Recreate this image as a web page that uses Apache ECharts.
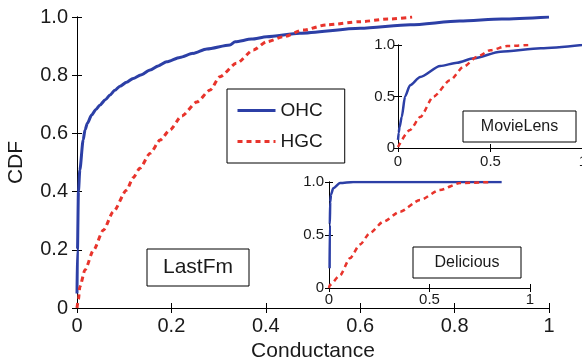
<!DOCTYPE html>
<html>
<head>
<meta charset="utf-8">
<script src="https://cdn.jsdelivr.net/npm/echarts@6/dist/echarts.min.js"></script>
<style>
html,body{margin:0;padding:0;background:#fff;}
#chart{width:582px;height:359px;}
</style>
</head>
<body>
<div id="chart"></div>
<script>
// ---- Data ----
// LastFm (main plot)
const lastfmOhcX = [0, 0.001, 0.003, 0.006, 0.013, 0.017, 0.022, 0.031, 0.040, 0.049, 0.060, 0.070, 0.080, 0.091, 0.105, 0.119, 0.135, 0.155, 0.172, 0.190, 0.218, 0.246, 0.275, 0.324, 0.335, 0.370, 0.402, 0.472, 0.600, 0.706, 0.811, 0.900, 1.0];
const lastfmOhcY = [0.05, 0.20, 0.40, 0.474, 0.577, 0.612, 0.635, 0.663, 0.682, 0.698, 0.716, 0.732, 0.748, 0.762, 0.776, 0.789, 0.801, 0.818, 0.832, 0.846, 0.861, 0.875, 0.890, 0.904, 0.915, 0.924, 0.932, 0.944, 0.961, 0.973, 0.986, 0.993, 1.0];
const lastfmHgcX = [0, 0.003, 0.006, 0.017, 0.035, 0.056, 0.077, 0.105, 0.119, 0.133, 0.155, 0.176, 0.197, 0.222, 0.254, 0.282, 0.303, 0.338, 0.374, 0.402, 0.437, 0.479, 0.529, 0.600, 0.660, 0.710];
const lastfmHgcY = [0, 0.03, 0.073, 0.131, 0.199, 0.268, 0.331, 0.405, 0.448, 0.480, 0.532, 0.577, 0.612, 0.660, 0.708, 0.749, 0.795, 0.841, 0.887, 0.915, 0.932, 0.955, 0.973, 0.984, 0.993, 1.0];
// MovieLens (inset)
const movieOhcX = [0, 0.004, 0.008, 0.020, 0.038, 0.065, 0.120, 0.228, 0.319, 0.409, 0.554, 0.772, 1.0];
const movieOhcY = [0.078, 0.15, 0.20, 0.30, 0.50, 0.61, 0.69, 0.796, 0.828, 0.871, 0.935, 0.968, 1.0];
const movieHgcX = [0, 0.065, 0.120, 0.192, 0.283, 0.355, 0.428, 0.500, 0.591, 0.708];
const movieHgcY = [0.01, 0.175, 0.30, 0.50, 0.66, 0.79, 0.886, 0.95, 0.99, 1.0];
// Delicious (inset)
const delOhcX = [0.003, 0.004, 0.006, 0.010, 0.021, 0.055, 0.120, 0.500, 0.859];
const delOhcY = [0.186, 0.60, 0.81, 0.88, 0.94, 0.99, 1.0, 1.0, 1.0];
const delHgcX = [0, 0.005, 0.055, 0.104, 0.154, 0.204, 0.270, 0.353, 0.453, 0.552, 0.652, 0.810];
const delHgcY = [0, 0.03, 0.12, 0.28, 0.41, 0.52, 0.625, 0.72, 0.83, 0.925, 0.99, 1.0];

// Tick labels
const mainXTicks = ['0', '0.2', '0.4', '0.6', '0.8', '1'];
const mainYTicks = ['0', '0.2', '0.4', '0.6', '0.8', '1.0'];
const insetXTicks = ['0', '0.5', '1'];
const insetYTicks = ['0', '0.5', '1.0'];
const seriesNames = ['OHC', 'HGC'];

// ---- Styling ----
const FONT = 'Liberation Sans, Arial, Helvetica, sans-serif';
const BLUE = '#2c3fa6';
const RED = '#e8342c';
const TXT = '#1a1a1a';

function pairs(xs, ys) { return xs.map((x, i) => [x, ys[i]]); }

function makeAxes(g, interval, xt, yt, fs, tickLen, xMargin, yMargin, z, extraX, extraY) {
  const lab = (arr) => (v) => { const i = Math.round(v / interval); return arr[i] !== undefined ? arr[i] : ''; };
  const line = { show: true, lineStyle: { color: '#000', width: 1 } };
  const tick = { show: true, inside: true, length: tickLen, lineStyle: { color: '#000', width: 1 } };
  const base = { gridIndex: g, type: 'value', min: 0, max: 1, interval: interval, splitLine: { show: false }, axisLine: line, axisTick: tick, z: z };
  const xs = [
    Object.assign({}, base, { position: 'bottom', axisLabel: { formatter: lab(xt), fontSize: fs, color: TXT, fontFamily: FONT, margin: xMargin, hideOverlap: false } }, extraX || {}),
    Object.assign({}, base, { position: 'top', axisLabel: { show: false } })
  ];
  const ys = [
    Object.assign({}, base, { position: 'left', axisLabel: { formatter: lab(yt), fontSize: fs, color: TXT, fontFamily: FONT, margin: yMargin, hideOverlap: false } }, extraY || {}),
    Object.assign({}, base, { position: 'right', axisLabel: { show: false } })
  ];
  return { xs, ys };
}

const mainAx = makeAxes(0, 0.2, mainXTicks, mainYTicks, 20, 5, 8, 9, 1,
  { name: 'Conductance', nameLocation: 'middle', nameGap: 30, nameTextStyle: { fontSize: 21, color: TXT, fontFamily: FONT } },
  { name: 'CDF', nameLocation: 'middle', nameGap: 50, nameTextStyle: { fontSize: 21, color: TXT, fontFamily: FONT } });
const movAx = makeAxes(1, 0.5, insetXTicks, insetYTicks, 15, 4, 6, 3, 11);
const delAx = makeAxes(2, 0.5, insetXTicks, insetYTicks, 15, 4, 4, 5, 21);

const xAxis = [].concat(mainAx.xs, movAx.xs, delAx.xs);
const yAxis = [].concat(mainAx.ys, movAx.ys, delAx.ys);

function lineSeries(name, data, axisIdx, color, dotted, width, z) {
  return {
    name: name, type: 'line', data: data, xAxisIndex: axisIdx, yAxisIndex: axisIdx,
    symbol: 'none', showSymbol: false, smooth: 0.25, smoothMonotone: 'x', z: z, animation: false,
    lineStyle: { color: color, width: width, type: dotted ? [5, 4] : 'solid' },
    itemStyle: { color: color }
  };
}

const series = [
  lineSeries(seriesNames[0], pairs(lastfmOhcX, lastfmOhcY), 0, BLUE, false, 3, 2),
  lineSeries(seriesNames[1], pairs(lastfmHgcX, lastfmHgcY), 0, RED, true, 3, 2),
  lineSeries(seriesNames[0], pairs(movieOhcX, movieOhcY), 2, BLUE, false, 2.5, 12),
  lineSeries(seriesNames[1], pairs(movieHgcX, movieHgcY), 2, RED, true, 2.5, 12),
  lineSeries(seriesNames[0], pairs(delOhcX, delOhcY), 4, BLUE, false, 2.5, 22),
  lineSeries(seriesNames[1], pairs(delHgcX, delHgcY), 4, RED, true, 2.5, 22)
];

function labelBox(x, y, w, h, text, fs) {
  return {
    type: 'group', z: 100, children: [
      { type: 'rect', shape: { x: x, y: y, width: w, height: h }, style: { fill: '#fff', stroke: '#000', lineWidth: 1 }, z: 100 },
      { type: 'text', x: x + w / 2, y: y + h / 2, style: { text: text, fontSize: fs, fontFamily: FONT, fill: TXT, align: 'center', verticalAlign: 'middle' }, z: 101 }
    ]
  };
}

const option = {
  backgroundColor: '#fff',
  animation: false,
  grid: [
    { left: 77, top: 17, width: 472, height: 291, show: false, z: 0, outerBoundsMode: 'none', containLabel: false },
    { left: 398, top: 45, width: 185, height: 103, show: true, backgroundColor: '#fff', borderWidth: 0, z: 10, outerBoundsMode: 'none', containLabel: false },
    { left: 329, top: 182, width: 201, height: 106, show: true, backgroundColor: '#fff', borderWidth: 0, z: 20, outerBoundsMode: 'none', containLabel: false }
  ],
  xAxis: xAxis,
  yAxis: yAxis,
  legend: {
    data: seriesNames, orient: 'vertical', left: 227, top: 89,
    itemWidth: 38, itemHeight: 14, itemGap: 12,
    padding: [12, 22, 12, 9], borderColor: '#000', borderWidth: 1, backgroundColor: '#fff',
    textStyle: { fontSize: 19, color: TXT, fontFamily: FONT },
    lineStyle: { width: 3 },
    itemStyle: { color: 'rgba(0,0,0,0)', borderColor: 'rgba(0,0,0,0)', borderWidth: 0, opacity: 0 },
    selectedMode: false, z: 50
  },
  graphic: [
    labelBox(147, 249, 102, 37, 'LastFm', 21),
    labelBox(463, 111, 113, 31, 'MovieLens', 16),
    labelBox(413, 247, 108, 31, 'Delicious', 16)
  ],
  series: series
};

const chart = echarts.init(document.getElementById('chart'), null, { renderer: 'canvas' });
chart.setOption(option);
</script>
</body>
</html>
